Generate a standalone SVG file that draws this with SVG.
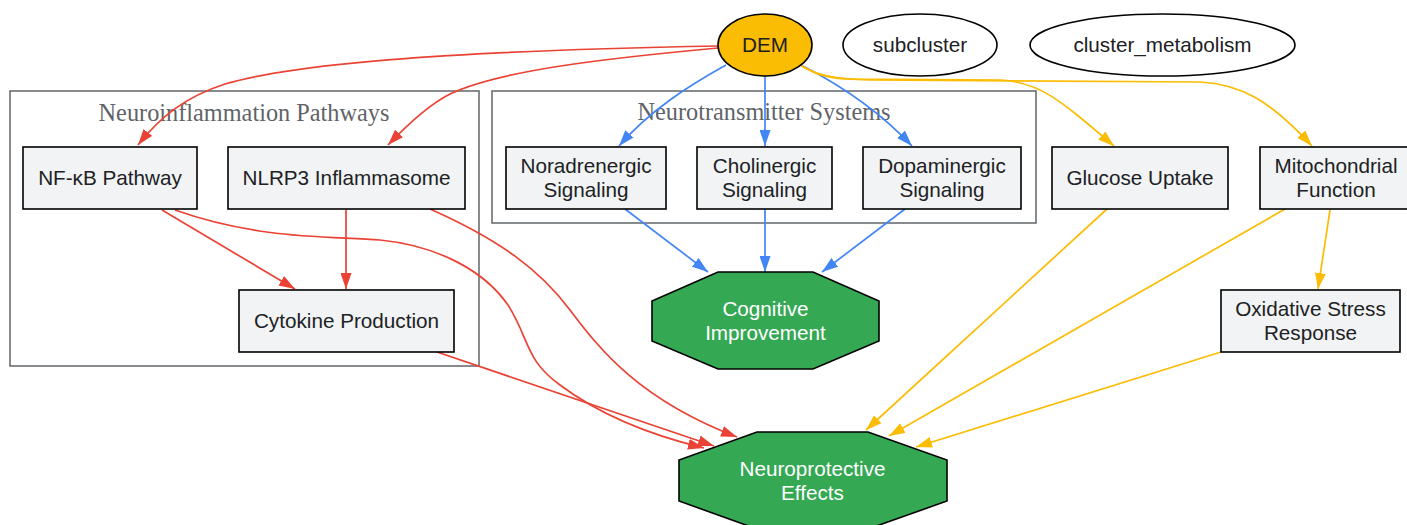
<svg xmlns="http://www.w3.org/2000/svg" width="1407" height="525" viewBox="0 0 1407 525">
<style>
.cl{fill:none;stroke:#6b6e72;stroke-width:1.6}
.ct{font-family:"Liberation Serif",serif;font-size:24.3px;fill:#5f6368;text-anchor:middle}
.bx{fill:#f1f3f4;stroke:#000;stroke-width:1.6}
.t{font-family:"Liberation Sans",Arial,sans-serif;font-size:20.7px;fill:#202124;text-anchor:middle}
.tw{font-family:"Liberation Sans",Arial,sans-serif;font-size:20.7px;fill:#ffffff;text-anchor:middle}
.oct{fill:#34a853;stroke:#000;stroke-width:1.6}
.r{fill:none;stroke:#ea4335;stroke-width:1.7;marker-end:url(#ar)}
.b{fill:none;stroke:#4285f4;stroke-width:1.7;marker-end:url(#ab)}
.y{fill:none;stroke:#fbbc04;stroke-width:1.7;marker-end:url(#ay)}
</style>
<defs>
<marker id="ar" viewBox="0 0 16 11" refX="16" refY="5.5" markerWidth="16" markerHeight="11" markerUnits="userSpaceOnUse" orient="auto"><path d="M0,0 L16,5.5 L0,11 z" fill="#ea4335"/></marker>
<marker id="ab" viewBox="0 0 16 11" refX="16" refY="5.5" markerWidth="16" markerHeight="11" markerUnits="userSpaceOnUse" orient="auto"><path d="M0,0 L16,5.5 L0,11 z" fill="#4285f4"/></marker>
<marker id="ay" viewBox="0 0 16 11" refX="16" refY="5.5" markerWidth="16" markerHeight="11" markerUnits="userSpaceOnUse" orient="auto"><path d="M0,0 L16,5.5 L0,11 z" fill="#fbbc04"/></marker>
</defs>
<rect width="1407" height="525" fill="#ffffff"/>

<g id="cluster_neuroinflammation">
<rect class="cl" x="10" y="91" width="469" height="275"/>
<text class="ct" x="244" y="121">Neuroinflammation Pathways</text>
</g>
<g id="cluster_neurotransmitter">
<rect class="cl" x="492" y="91" width="544" height="132"/>
<text class="ct" x="764" y="120">Neurotransmitter Systems</text>
</g>

<g id="connectors">
<path class="r" d="M718,46 C560,49 320,56 225,84 C185,97 160,117 138,145"/>
<path class="r" d="M718,48 C610,58 500,70 450,94 C430,104 410,122 388,145"/>
<path class="r" d="M162,210 L295,289"/>
<path class="r" d="M346,210 L346,289"/>
<path class="r" d="M175,210 C260,240 330,236 380,240 C440,246 485,272 508,305 C530,340 525,360 560,385 C600,415 650,435 704,448"/>
<path class="r" d="M437,352 L714,446"/>
<path class="r" d="M430,209 C500,240 540,270 570,310 C600,350 640,400 737,437"/>
<path class="b" d="M726,65 C690,85 650,110 619,146"/>
<path class="b" d="M765,76 L765,146"/>
<path class="b" d="M803,66 C840,85 880,112 912,146"/>
<path class="b" d="M625,209 L708,272"/>
<path class="b" d="M765,209 L765,272"/>
<path class="b" d="M905,209 L822,272"/>
<path class="y" d="M800,65 C812,72 822,78 850,79 L1000,80 C1040,82 1060,100 1114,146"/>
<path class="y" d="M802,66 C815,74 830,79 870,80 L1200,82 C1240,84 1270,100 1312,146"/>
<path class="y" d="M1107,209 L866,430"/>
<path class="y" d="M1285,209 L889,436"/>
<path class="y" d="M1330,210 L1318,289"/>
<path class="y" d="M1221,352 L916,447"/>
</g>

<g id="node_DEM">
<ellipse cx="765" cy="45" rx="47" ry="31" fill="#fbbc04" stroke="#000" stroke-width="1.6"/>
<text class="t" x="765" y="52">DEM</text>
</g>
<g id="node_subcluster">
<ellipse cx="920" cy="45" rx="77" ry="31" fill="#ffffff" stroke="#000" stroke-width="1.6"/>
<text class="t" x="920" y="52">subcluster</text>
</g>
<g id="node_cluster_metabolism">
<ellipse cx="1162.5" cy="45" rx="132.5" ry="31" fill="#ffffff" stroke="#000" stroke-width="1.6"/>
<text class="t" x="1162.5" y="52">cluster_metabolism</text>
</g>

<g id="node_nfkb">
<rect class="bx" x="23" y="147" width="174" height="62"/>
<text class="t" x="110" y="185">NF-κB Pathway</text>
</g>
<g id="node_nlrp3">
<rect class="bx" x="228" y="147" width="237" height="62"/>
<text class="t" x="346.5" y="185">NLRP3 Inflammasome</text>
</g>
<g id="node_cytokine">
<rect class="bx" x="239" y="290" width="215" height="62"/>
<text class="t" x="346.5" y="328">Cytokine Production</text>
</g>
<g id="node_noradrenergic">
<rect class="bx" x="506" y="147" width="160" height="62"/>
<text class="t" x="586" y="173">Noradrenergic</text>
<text class="t" x="586" y="197">Signaling</text>
</g>
<g id="node_cholinergic">
<rect class="bx" x="697" y="147" width="135" height="62"/>
<text class="t" x="764.5" y="173">Cholinergic</text>
<text class="t" x="764.5" y="197">Signaling</text>
</g>
<g id="node_dopaminergic">
<rect class="bx" x="863" y="147" width="158" height="62"/>
<text class="t" x="942" y="173">Dopaminergic</text>
<text class="t" x="942" y="197">Signaling</text>
</g>
<g id="node_glucose">
<rect class="bx" x="1052" y="147" width="176" height="62"/>
<text class="t" x="1140" y="185">Glucose Uptake</text>
</g>
<g id="node_mito">
<rect class="bx" x="1260" y="147" width="148" height="62"/>
<text class="t" x="1336" y="173">Mitochondrial</text>
<text class="t" x="1336" y="197">Function</text>
</g>
<g id="node_oxidative">
<rect class="bx" x="1221" y="290" width="179" height="62"/>
<text class="t" x="1310.5" y="316">Oxidative Stress</text>
<text class="t" x="1310.5" y="340">Response</text>
</g>
<g id="node_cognitive">
<polygon class="oct" points="718,272 813,272 879,301 879,341 813,369 718,369 652,341 652,301"/>
<text class="tw" x="765.5" y="316">Cognitive</text>
<text class="tw" x="765.5" y="340">Improvement</text>
</g>
<g id="node_neuroprotective">
<polygon class="oct" points="757,432 868,432 947,460 947,501 868,529 757,529 679,501 679,460"/>
<text class="tw" x="812.5" y="476">Neuroprotective</text>
<text class="tw" x="812.5" y="500">Effects</text>
</g>
</svg>
